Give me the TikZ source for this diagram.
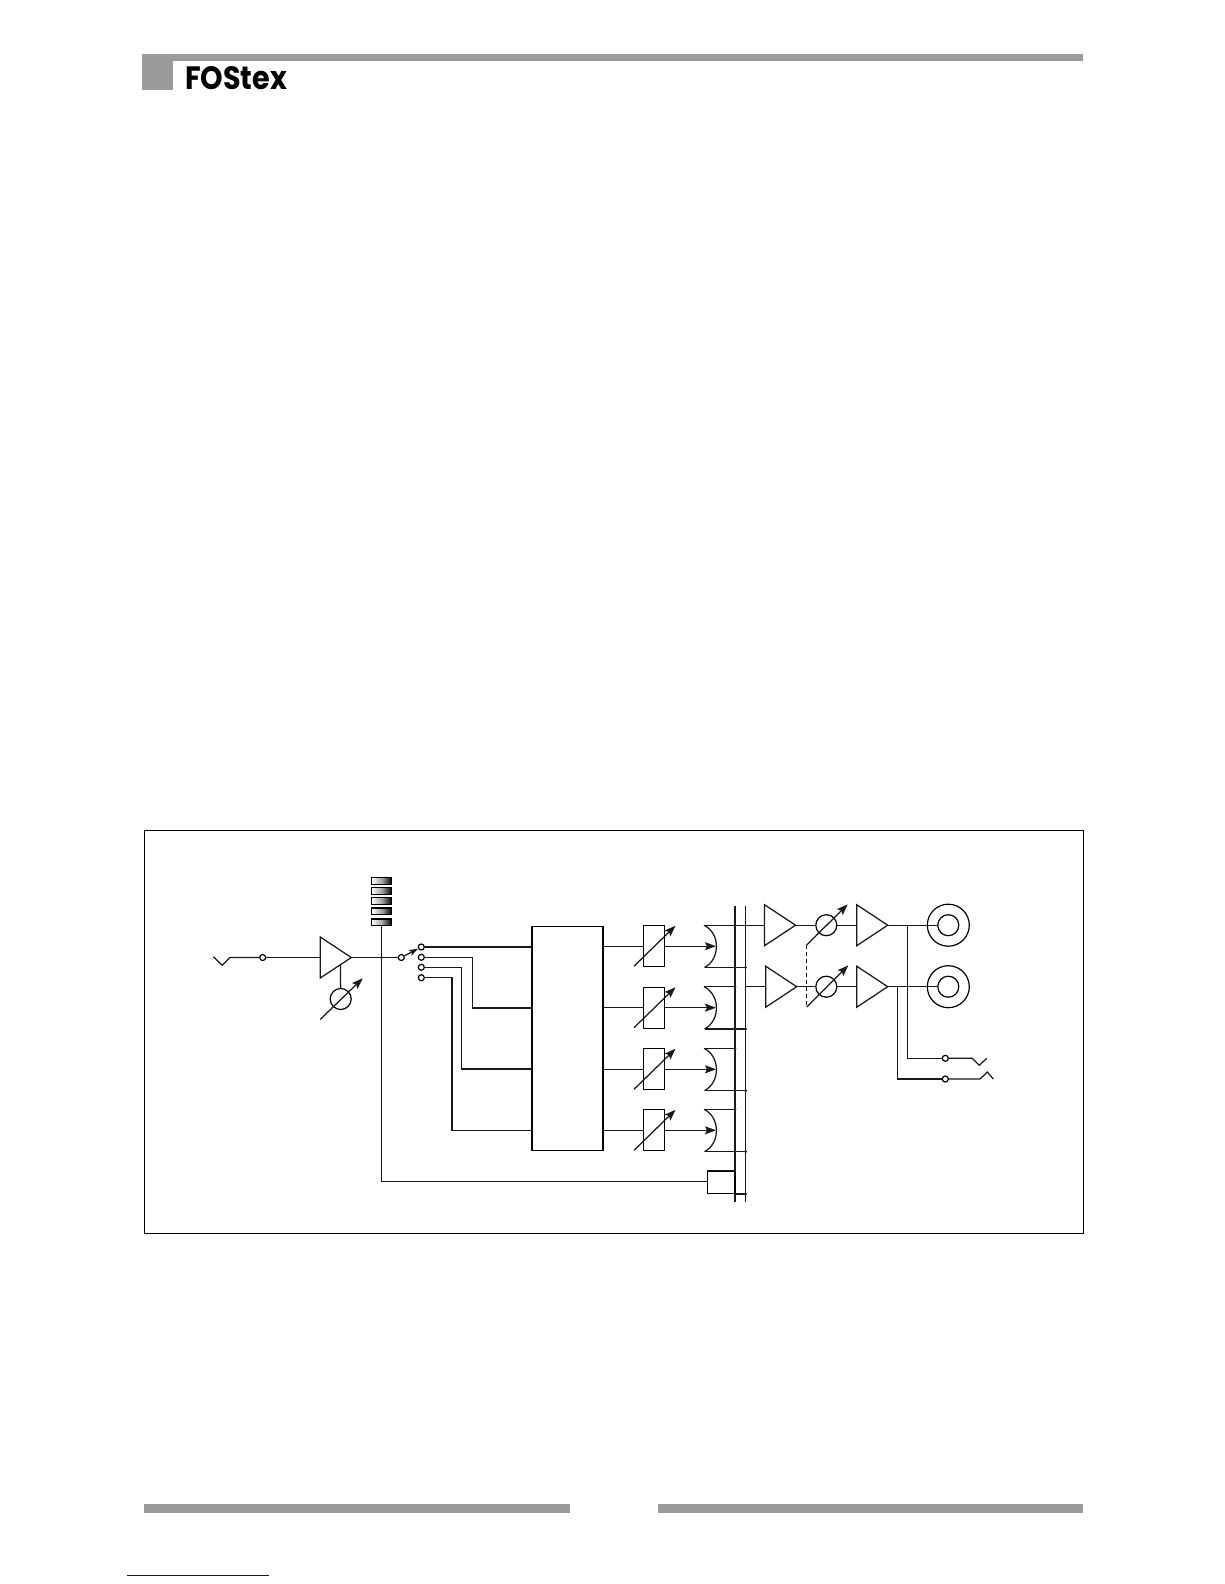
\documentclass[tikz,border=0pt]{standalone}
\usepackage{fontspec}
\newfontfamily\logofont{Poppins}[BoldFont=Poppins Bold]
\usetikzlibrary{arrows.meta,calc}
\definecolor{bargray}{HTML}{9B9B9B}
\definecolor{linkblue}{HTML}{0A0A80}
\tikzset{
  wire/.style={line width=1.25pt,line join=miter,black!90},
  ctl/.style={wire,-{Stealth[length=11pt,width=8pt,inset=2pt]}},
  port/.style={circle,draw,line width=1.2pt,fill=white,inner sep=0pt,minimum size=6pt},
  pot/.style={circle,draw,line width=1.2pt,inner sep=0pt,minimum size=21pt},
  faderbox/.style={rectangle,draw,line width=1.2pt,inner sep=0pt,minimum width=21pt,minimum height=41pt},
  dotj/.style={circle,fill=black!85,inner sep=0pt,minimum size=3pt},
  ledbar/.style={rectangle,draw=black,line width=1.2pt,inner sep=0pt,minimum width=20pt,minimum height=6.5pt,left color=white,right color=black,middle color=black!35},
  greybar/.style={fill=bargray,draw=none}
}
% amplifier triangle: name, left x, centre y
\newcommand{\ampli}[3]{%
  \coordinate (#1-a) at (#2,#3-20.5);
  \coordinate (#1-b) at (#2,#3+20.5);
  \coordinate (#1) at (#2,#3);
  \coordinate (#1-tip) at (#2+31,#3);
  \draw[wire,line join=miter] (#1-a) -- (#1-tip) -- (#1-b) -- cycle;}
% fader row: index, y
\newcommand{\faderrow}[2]{%
  \node[faderbox] (fader#1) at (653.8,#2) {};
  \coordinate (fa#1) at (634,#2+20);
  \coordinate (fb#1) at (675.5,#2-20.5);
  \draw[ctl] (fa#1) -- (fb#1);
  \coordinate (mixT#1) at (704,#2-21);
  \coordinate (mixB#1) at (704.5,#2+21.3);
  \coordinate (mixM#1) at (716,#2);
  \draw[wire] (mixT#1) .. controls (720.5,#2-13) and (720.5,#2+13) .. (mixB#1);
  \draw[wire] (block.east |- fader#1) -- (fader#1.west);
  \draw[ctl] (fader#1.east) -- (mixM#1);}
\begin{document}
\begin{tikzpicture}[x=1pt,y=-1pt]
\useasboundingbox (0,0) rectangle (1224,1584);
% page furniture
\fill[greybar] (142,54) rectangle (1083,61);
\fill[greybar] (142,54) rectangle (173,90);
\node[inner sep=0pt] (logo) at (236,78.5) {\resizebox{102pt}{23pt}{\logofont\bfseries FOStex}};
\fill[greybar] (143.5,1504) rectangle (570,1512.5);
\fill[greybar] (657.5,1504) rectangle (1083,1512.5);
\draw[linkblue,line width=1pt] (127,1575.3) -- (269,1575.3);
% frame
\node[rectangle,draw,line width=1pt,inner sep=0pt,minimum width=939pt,minimum height=403pt] (frame) at (614,1031.5) {};
% LEDs
\foreach \i/\y in {1/881,2/891,3/901,4/911.2,5/922.2}
  \node[ledbar] (led\i) at (381.6,\y) {};
% input
\coordinate (jA) at (213.3,956.7);
\coordinate (jB) at (222.3,965.3);
\coordinate (jC) at (230,957.5);
\node[port] (inport) at (262.7,957.5) {};
\ampli{inamp}{320.3}{957.5}
\draw[wire] (jA) -- (jB) -- (jC) -- (inport);
\draw[wire] (inport) -- (inamp);
% trim
\node[pot] (trim) at (340.7,999) {};
\coordinate (trimtop) at (340.5,965);
\draw[wire] (trimtop) -- (trim);
\coordinate (tA) at (320.3,1019.3);
\coordinate (tB) at (362.7,978.3);
\draw[ctl] (tA) -- (tB);
% selector
\node[port] (sw) at (401.3,957.5) {};
\node[port] (c1) at (421.3,947) {};
\node[port] (c2) at (421.3,957.3) {};
\node[port] (c3) at (421.3,967.3) {};
\node[port] (c4) at (421.3,977.7) {};
\draw[wire] (inamp-tip) -- (sw);
\draw[wire,-{Stealth[length=9pt,width=6pt,inset=2pt]}] (sw) -- (c1);
\node[dotj] (split) at (381.6,957.5) {};
% main block
\node[rectangle,draw,line width=1.2pt,inner sep=0pt,minimum width=71pt,minimum height=224.5pt] (block) at (567.5,1038.6) {};
\coordinate (tap1) at (532,947);
\coordinate (tap2) at (532,1008);
\coordinate (tap3) at (532,1069);
\coordinate (tap4) at (532,1130.3);
\draw[wire] (c1) -- (tap1);
\draw[wire] (c2) -- (472.6,957.3) -- (472.6,1008) -- (tap2);
\draw[wire] (c3) -- (461.8,967.3) -- (461.8,1069) -- (tap3);
\draw[wire] (c4) -- (452,977.7) -- (452,1130.3) -- (tap4);
% fader rows
\faderrow{1}{946.2}
\faderrow{2}{1007.7}
\faderrow{3}{1069.3}
\faderrow{4}{1130.3}
% buses
\coordinate (busLt) at (735,906);
\coordinate (busLb) at (735,1201.7);
\coordinate (busRt) at (745.7,906);
\coordinate (busRb) at (745.7,1201.7);
\draw[wire,line width=1.5pt] (busLt) -- (busLb);
\draw[wire] (busRt) -- (busRb);
% master section amps
\ampli{bufL}{764.5}{925.2}
\ampli{bufR}{765.7}{986.7}
\ampli{outL}{856.7}{925.2}
\ampli{outR}{856.7}{986.7}
\draw[wire] (mixT1) -- (bufL);
\draw[wire] (mixB1) -- (busRt |- mixB1);
\draw[wire] (mixT2) -- (busLt |- mixT2);
\draw[wire] (busRt |- mixT2) -- (bufR);
\draw[wire] (mixB2) -- (busRt |- mixB2);
\draw[wire] (mixT3) -- (busLt |- mixT3);
\draw[wire] (mixB3) -- (busRt |- mixB3);
\draw[wire] (mixT4) -- (busLt |- mixT4);
\draw[wire] (mixB4) -- (busRt |- mixB4);
\foreach \n in {2,3,4} \node[dotj] (dl\n) at (busLt |- mixT\n) {};
\foreach \n in {1,2,3,4} \node[dotj] (dr\n) at (busRt |- mixB\n) {};
% tape/solo block
\node[rectangle,draw,line width=1.2pt,inner sep=0pt,minimum width=27.7pt,minimum height=22.3pt] (sumbox) at (721.2,1182.2) {};
\draw[wire,line width=1.8pt] (sumbox.north west) -- (sumbox.north east);
\draw[wire] (sumbox.south east) -- (busRt |- sumbox.south);
\node[dotj] (dsum) at (busRt |- sumbox.south) {};
\coordinate (ledfoot) at (381.6,926);
\coordinate (elbow) at (381.6,1181.3);
\coordinate (sumin) at (707.3,1181.3);
\draw[wire] (ledfoot) -- (elbow) -- (sumin);
% master pots
\node[pot] (mL) at (826.3,925.2) {};
\node[pot] (mR) at (826.3,986.7) {};
\draw[wire] (bufL-tip) -- (mL);
\draw[wire] (mL) -- (outL);
\draw[wire] (bufR-tip) -- (mR);
\draw[wire] (mR) -- (outR);
\coordinate (mLa) at (806.7,945);
\coordinate (mLb) at (847.7,904.3);
\coordinate (mRa) at (806.7,1007);
\coordinate (mRb) at (848.3,965.3);
\draw[ctl] (mLa) -- (mLb);
\draw[ctl] (mRa) -- (mRb);
\draw[line width=1.1pt,dash pattern=on 4pt off 3pt] (mLa) -- (mRa);
% output jacks
\node[circle,draw,line width=1.2pt,inner sep=0pt,minimum size=42pt] (rcaLo) at (948.3,925.2) {};
\node[circle,draw,line width=1.2pt,inner sep=0pt,minimum size=21pt] (rcaL) at (948.3,925.2) {};
\node[circle,draw,line width=1.2pt,inner sep=0pt,minimum size=42pt] (rcaRo) at (948.3,986.7) {};
\node[circle,draw,line width=1.2pt,inner sep=0pt,minimum size=21pt] (rcaR) at (948.3,986.7) {};
\draw[wire] (outL-tip) -- (rcaL);
\draw[wire] (outR-tip) -- (rcaR);
% insert / send
\node[port] (pL) at (945.3,1058.3) {};
\node[port] (pR) at (945.3,1079) {};
\coordinate (tapL) at (907.7,925.2);
\coordinate (tapR) at (897.3,986.7);
\draw[wire] (tapL) -- (907.7,1058.3) -- (pL);
\draw[wire] (tapR) -- (897.3,1079) -- (pR);
\coordinate (lA) at (972.3,1058.3);
\coordinate (lB) at (979.3,1065.3);
\coordinate (lC) at (986.7,1058.3);
\coordinate (rA) at (980,1079);
\coordinate (rB) at (987.3,1072);
\coordinate (rC) at (993.3,1079);
\draw[wire] (pL) -- (lA) -- (lB) -- (lC);
\draw[wire] (pR) -- (rA) -- (rB) -- (rC);
\end{tikzpicture}
\end{document}
